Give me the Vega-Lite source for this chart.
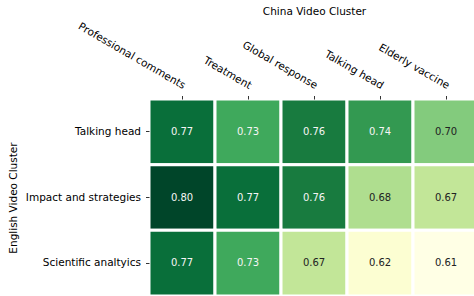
{
  "$schema": "https://vega.github.io/schema/vega-lite/v6.json",
  "width": 330,
  "height": 197,
  "autosize": {"type": "none"},
  "padding": {"left": 149, "top": 99, "right": 0, "bottom": 0},
  "background": "white",
  "config": {
    "font": "DejaVu Sans",
    "view": {"stroke": null},
    "axis": {"labelFont": "DejaVu Sans", "titleFont": "DejaVu Sans", "labelFontSize": 10.5, "titleFontSize": 10.5, "titleFontWeight": "normal", "labelColor": "#000", "titleColor": "#000", "domain": false, "tickColor": "#000", "tickSize": 3.5, "tickWidth": 0.8, "labelPadding": 3}
  },
  "data": {
    "values": [
      {"en": "Talking head", "cn": "Professional comments", "v": 0.77},
      {"en": "Talking head", "cn": "Treatment", "v": 0.73},
      {"en": "Talking head", "cn": "Global response", "v": 0.76},
      {"en": "Talking head", "cn": "Talking head", "v": 0.74},
      {"en": "Talking head", "cn": "Elderly vaccine", "v": 0.70},
      {"en": "Impact and strategies", "cn": "Professional comments", "v": 0.80},
      {"en": "Impact and strategies", "cn": "Treatment", "v": 0.77},
      {"en": "Impact and strategies", "cn": "Global response", "v": 0.76},
      {"en": "Impact and strategies", "cn": "Talking head", "v": 0.68},
      {"en": "Impact and strategies", "cn": "Elderly vaccine", "v": 0.67},
      {"en": "Scientific analtyics", "cn": "Professional comments", "v": 0.77},
      {"en": "Scientific analtyics", "cn": "Treatment", "v": 0.73},
      {"en": "Scientific analtyics", "cn": "Global response", "v": 0.67},
      {"en": "Scientific analtyics", "cn": "Talking head", "v": 0.62},
      {"en": "Scientific analtyics", "cn": "Elderly vaccine", "v": 0.61}
    ]
  },
  "encoding": {
    "x": {"field": "cn", "type": "nominal", "sort": ["Professional comments", "Treatment", "Global response", "Talking head", "Elderly vaccine"],
      "scale": {"paddingInner": 0, "paddingOuter": 0},
      "axis": {"orient": "top", "title": "China Video Cluster", "labelAngle": 30, "labelAlign": "right", "labelBaseline": "bottom", "labelPadding": 5, "titlePadding": 4, "grid": false}},
    "y": {"field": "en", "type": "nominal", "sort": ["Talking head", "Impact and strategies", "Scientific analtyics"],
      "scale": {"paddingInner": 0, "paddingOuter": 0},
      "axis": {"title": "English Video Cluster", "labelPadding": 5, "titlePadding": 7, "grid": false}}
  },
  "layer": [
    {"mark": {"type": "rect", "stroke": "white", "strokeWidth": 3},
     "encoding": {"color": {"field": "v", "type": "quantitative", "scale": {"domain": [0.61, 0.63375, 0.6575, 0.68125, 0.705, 0.72875, 0.7525, 0.77625, 0.80], "range": ["#ffffe5", "#f7fcb9", "#d9f0a3", "#addd8e", "#78c679", "#41ab5d", "#238443", "#006837", "#004529"], "interpolate": "rgb"}, "legend": null}}},
    {"mark": {"type": "text", "fontSize": 10, "font": "DejaVu Sans"},
     "encoding": {"text": {"field": "v", "type": "quantitative", "format": ".2f"},
       "color": {"condition": {"test": "datum.v > 0.705", "value": "#f5f5f5"}, "value": "#222"}}}
  ]
}
